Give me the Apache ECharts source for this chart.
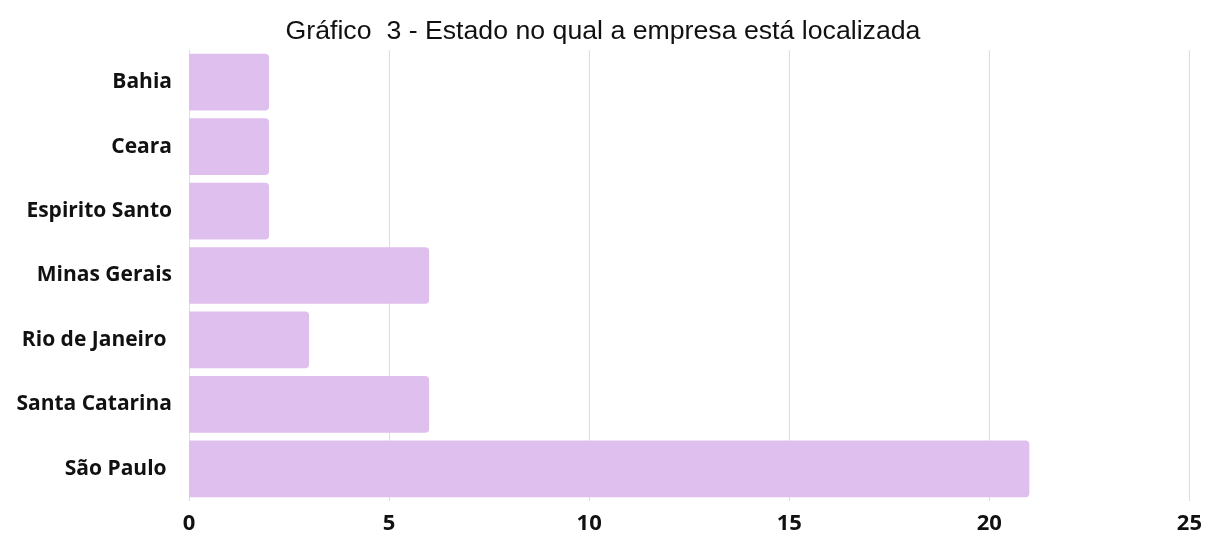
<!DOCTYPE html>
<html>
<head>
<meta charset="utf-8">
<script src="https://cdn.jsdelivr.net/npm/echarts@6/dist/echarts.min.js"></script>
<style>
  html, body { margin: 0; padding: 0; background: #ffffff; }
  #chart { width: 1205px; height: 535px; }
</style>
</head>
<body>
<div id="chart"></div>
<script>
// States where the companies are located and how many companies in each
const states = ['Bahia', 'Ceara', 'Espirito Santo', 'Minas Gerais', 'Rio de Janeiro ', 'Santa Catarina', 'São Paulo '];
const companies = [2, 2, 2, 6, 3, 6, 21];
const xTicks = { min: 0, max: 25, interval: 5 };

const chart = echarts.init(document.getElementById('chart'), null, { renderer: 'canvas' });

chart.setOption({
  animation: false,
  backgroundColor: '#ffffff',
  title: {
    text: 'Gráfico  3 - Estado no qual a empresa está localizada',
    left: 598,
    textAlign: 'center',
    top: 13,
    textStyle: {
      fontFamily: 'Liberation Sans, Arial, sans-serif',
      fontSize: 26.7,
      fontWeight: 'normal',
      color: '#111111'
    }
  },
  grid: { left: 189, right: 12, top: 50, bottom: 31, containLabel: false },
  xAxis: {
    type: 'value',
    min: xTicks.min,
    max: xTicks.max,
    interval: xTicks.interval,
    axisLine: { show: false },
    axisTick: { show: false },
    splitLine: { show: true, lineStyle: { color: '#dddddd', width: 1 } },
    axisLabel: {
      margin: 12,
      color: '#111111',
      fontFamily: 'Open Sans, Noto Sans, sans-serif',
      fontWeight: 'bold',
      fontSize: 22
    }
  },
  yAxis: {
    type: 'category',
    data: states,
    inverse: true,
    axisLine: { show: false },
    axisTick: { show: false },
    splitLine: { show: false },
    axisLabel: {
      margin: 17,
      color: '#111111',
      fontFamily: 'Open Sans, Noto Sans, sans-serif',
      fontWeight: 'bold',
      fontSize: 21
    }
  },
  series: [{
    type: 'bar',
    data: companies,
    barCategoryGap: '12%',
    itemStyle: { color: '#dfbfed', borderRadius: [0, 4, 4, 0] }
  }]
});
</script>
</body>
</html>
